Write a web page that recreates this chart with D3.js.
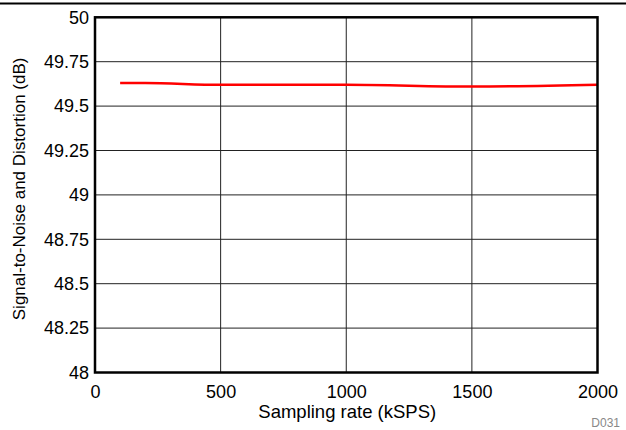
<!DOCTYPE html>
<html><head><meta charset="utf-8">
<script src="https://cdn.jsdelivr.net/npm/d3@7"></script>
<style>body{margin:0;background:#fff}svg{display:block}text{font-family:"Liberation Sans",Arial,sans-serif}</style>
</head><body><svg id="c" width="626" height="430"></svg>
<script>
const rates = [100, 200, 500, 1000, 1500, 2000];
const sinad = [49.63, 49.63, 49.62, 49.62, 49.61, 49.62];
const xTicks = [0, 500, 1000, 1500, 2000];
const yTicks = [48, 48.25, 48.5, 48.75, 49, 49.25, 49.5, 49.75, 50];
const yTickLabels = ["48", "48.25", "48.5", "48.75", "49", "49.25", "49.5", "49.75", "50"];

const svg = d3.select("#c");
const L = 95, R = 597.5, T = 17.3, B = 372.5;
const x = d3.scaleLinear().domain([0, 2000]).range([L, R]);
const y = d3.scaleLinear().domain([48, 50]).range([B, T]);

svg.append("line").attr("x1", 0).attr("x2", 626).attr("y1", 3.5).attr("y2", 3.5)
  .attr("stroke", "#000").attr("stroke-width", 2);

const grid = svg.append("g");
grid.selectAll("line.v").data(xTicks.slice(1, -1)).join("line")
  .attr("x1", d => x(d)).attr("x2", d => x(d)).attr("y1", T).attr("y2", B)
  .attr("stroke", "#222").attr("stroke-width", 1);
grid.selectAll("line.h").data(yTicks.slice(1, -1)).join("line")
  .attr("x1", L).attr("x2", R).attr("y1", d => y(d)).attr("y2", d => y(d))
  .attr("stroke", "#222").attr("stroke-width", 1);

const line = d3.line().x((d, i) => x(rates[i])).y(d => y(d)).curve(d3.curveMonotoneX);
svg.append("path").datum(sinad).attr("d", line).attr("fill", "none")
  .attr("stroke", "#ff0000").attr("stroke-width", 2.5);

svg.append("rect").attr("x", L).attr("y", T).attr("width", R - L).attr("height", B - T)
  .attr("fill", "none").attr("stroke", "#000").attr("stroke-width", 2.5);

const xAxis = d3.axisBottom(x).tickValues(xTicks).tickSize(0).tickPadding(13).tickFormat(d3.format("d"));
const gx = svg.append("g").attr("transform", `translate(0,${B})`).call(xAxis);
gx.select(".domain").remove();
gx.selectAll("text").attr("font-size", 18).attr("fill", "#000").attr("font-family", "Liberation Sans, Arial, sans-serif");

const yAxis = d3.axisLeft(y).tickValues(yTicks).tickSize(0).tickPadding(6).tickFormat((d, i) => yTickLabels[i]);
const gy = svg.append("g").attr("transform", `translate(${L},0)`).call(yAxis);
gy.select(".domain").remove();
gy.selectAll("text").attr("font-size", 18).attr("fill", "#000").attr("font-family", "Liberation Sans, Arial, sans-serif");

svg.append("text").attr("x", (L + R) / 2 + 1).attr("y", 418).attr("text-anchor", "middle")
  .attr("font-size", 18.5).text("Sampling rate (kSPS)");
svg.append("text").attr("transform", `translate(25,${(T + B) / 2 - 6}) rotate(-90)`).attr("text-anchor", "middle")
  .attr("font-size", 17).text("Signal-to-Noise and Distortion (dB)");
svg.append("text").attr("x", 620).attr("y", 427).attr("text-anchor", "end")
  .attr("font-size", 12).attr("fill", "#888").text("D031");
</script></body></html>
